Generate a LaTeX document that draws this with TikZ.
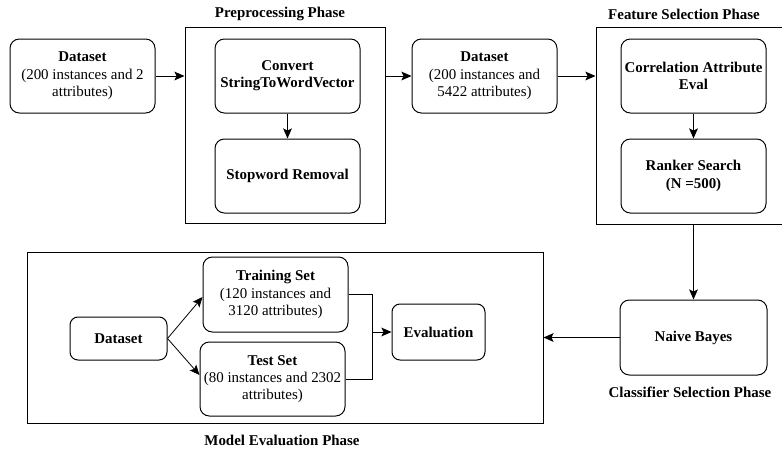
\documentclass[tikz,border=0pt]{standalone}
\usepackage{fontspec}
\setmainfont{Liberation Serif}[BoldFont={Liberation Serif Bold}]
\newfontfamily\diagfont{Liberation Serif}
\usetikzlibrary{arrows.meta,calc}
\begin{document}
\begin{tikzpicture}[x=0.75pt,y=-0.75pt,
  font=\diagfont\fontsize{11.2}{13}\selectfont,
  sz/.style 2 args={minimum width=#1*0.75pt,minimum height=#2*0.75pt},
  stage/.style={draw,rounded corners=7pt,line width=0.75pt,align=center,inner sep=2pt},
  frame/.style={draw,line width=0.75pt,inner sep=0pt},
  phase/.style={font=\diagfont\fontsize{11.2}{13}\selectfont\bfseries},
  flow/.style={line width=0.75pt,-{Stealth[length=7.5pt,width=6.5pt,inset=1.5pt]}},
  thin flow/.style={line width=0.6pt,-{Stealth[length=7.5pt,width=6.5pt,inset=1.5pt]}},
  link/.style={line width=0.75pt}]
\useasboundingbox (0,0) rectangle (782,450);
\clip (0,0) rectangle (782,450);

% phase frames
\node[frame,sz={200}{196}] (prep) at (285,125) {};
\node[frame,sz={195}{197}] (feat) at (693.5,125.5) {};
\node[frame,sz={516}{171}] (model) at (285,337.5) {};

% phase titles
\node[phase] (tprep) at (280,14) {Preprocessing Phase};
\node[phase] (tfeat) at (684,14) {Feature Selection Phase};
\node[phase] (tclass) at (690,392) {Classifier Selection Phase};
\node[phase] (tmodel) at (282,440) {Model Evaluation Phase};

% top row
\node[stage,sz={145}{74}] (ds1) at (82.5,76) {\textbf{Dataset}\\(200 instances and 2\\attributes)};
\node[stage,sz={145}{74}] (conv) at (287.5,76) {\textbf{Convert}\\\textbf{StringToWordVector}};
\node[stage,sz={145}{74}] (stop) at (287.5,176) {\textbf{Stopword Removal}};
\node[stage,sz={145}{74}] (ds2) at (484.5,76) {\textbf{Dataset}\\(200 instances and\\5422 attributes)};
\node[stage,sz={145}{74}] (corr) at (693.5,76) {\textbf{Correlation Attribute}\\\textbf{Eval}};
\node[stage,sz={145}{74}] (rank) at (693.5,176) {\textbf{Ranker Search}\\\textbf{(N =500)}};

% classifier
\node[stage,sz={147}{75}] (nb) at (693.5,337.5) {\textbf{Naive Bayes}};

% model evaluation
\node[stage,sz={97}{43},rounded corners=6pt] (ds3) at (118.5,338.5) {\textbf{Dataset}};
\node[stage,sz={145}{75}] (train) at (275.5,294.5) {\textbf{Training Set}\\(120 instances and\\3120 attributes)};
\node[stage,sz={145}{74}] (test) at (272.5,379) {\textbf{Test Set}\\(80 instances and 2302\\attributes)};
\node[stage,sz={93}{56},rounded corners=6pt] (eval) at (438.5,332) {\textbf{Evaluation}};
\coordinate (join) at (372,332);

% connectors
\draw[flow] (ds1.east) -- (ds1.east -| prep.west);
\draw[flow] (conv.south) -- (stop.north);
\draw[flow] (ds2.west -| prep.east) -- (ds2.west);
\draw[flow] (ds2.east) -- (ds2.east -| feat.west);
\draw[flow] (corr.south) -- (rank.north);
\draw[flow] (feat.south -| nb.north) -- (nb.north);
\draw[flow] (nb.west) -- (nb.west -| model.east);
\draw[thin flow] (ds3.east) -- ($(train.west)+(0,2.5)$);
\draw[thin flow] (ds3.east) -- ($(test.west)+(0,-4)$);
\draw[link] (train.east) -| (join);
\draw[link] (test.east) -| (join);
\draw[flow] (join) -- (eval.west);
\end{tikzpicture}
\end{document}
